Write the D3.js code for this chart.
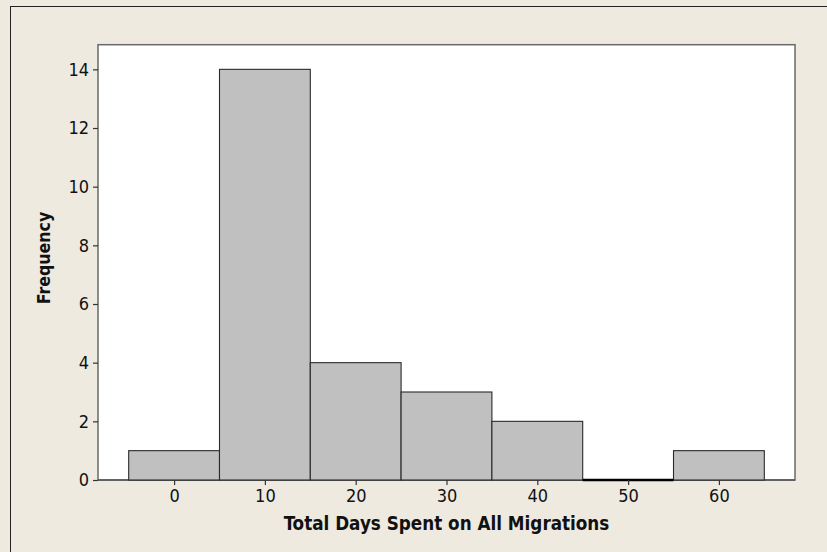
<!DOCTYPE html>
<html>
<head>
<meta charset="utf-8">
<script src="https://cdn.jsdelivr.net/npm/d3@7"></script>
<style>
  html, body { margin: 0; padding: 0; background: #EEEAE0; }
  svg { display: block; }
  text { font-family: "DejaVu Sans Condensed", "DejaVu Sans", sans-serif; fill: #111; }
</style>
</head>
<body>
<svg id="chart" width="827" height="552"></svg>
<script>
// Histogram of total days spent on all migrations (bin width 10)
const binCenters = [0, 10, 20, 30, 40, 50, 60];
const counts = [1, 14, 4, 3, 2, 0, 1];
const binWidth = 10;
const xTicks = [0, 10, 20, 30, 40, 50, 60];
const yTicks = [0, 2, 4, 6, 8, 10, 12, 14];
const xTitle = "Total Days Spent on All Migrations";
const yTitle = "Frequency";

const W = 827, H = 552;
const plot = { left: 98, top: 44.7, right: 795, bottom: 480 };

const svg = d3.select("#chart");

// outer panel
svg.append("rect")
  .attr("x", 10.5).attr("y", 6.5)
  .attr("width", W + 20).attr("height", H + 20)
  .attr("fill", "#EEEAE0")
  .attr("stroke", "#222").attr("stroke-width", 1);

const x = d3.scaleLinear().domain([-8.38, 68.38]).range([plot.left, plot.right]);
const y = d3.scaleLinear().domain([0, 14.84]).range([plot.bottom, plot.top]);

// data region and its frame
svg.append("rect")
  .attr("x", plot.left).attr("y", plot.top)
  .attr("width", plot.right - plot.left).attr("height", plot.bottom - plot.top)
  .attr("fill", "#fff")
  .attr("stroke", "#6a6a6a").attr("stroke-width", 1.5);

// baseline
svg.append("line")
  .attr("x1", plot.left).attr("x2", plot.right)
  .attr("y1", plot.bottom).attr("y2", plot.bottom)
  .attr("stroke", "#555").attr("stroke-width", 1.5);

const bins = binCenters.map((c, i) => ({ c, n: counts[i] }));

// bars with a count
svg.append("g").selectAll("rect")
  .data(bins.filter(d => d.n > 0))
  .join("rect")
  .attr("x", d => x(d.c - binWidth / 2))
  .attr("y", d => y(d.n))
  .attr("width", d => x(d.c + binWidth / 2) - x(d.c - binWidth / 2))
  .attr("height", d => y(0) - y(d.n))
  .attr("fill", "#C0C0C0")
  .attr("stroke", "#2a2a2a")
  .attr("stroke-width", 1.1);

// empty bins collapse to a heavy line on the baseline
svg.append("g").selectAll("line")
  .data(bins.filter(d => d.n === 0))
  .join("line")
  .attr("x1", d => x(d.c - binWidth / 2))
  .attr("x2", d => x(d.c + binWidth / 2))
  .attr("y1", d => y(d.n))
  .attr("y2", d => y(d.n))
  .attr("stroke", "#000")
  .attr("stroke-width", 2.4);

// axes
const xAxis = d3.axisBottom(x).tickValues(xTicks).tickSize(5).tickPadding(4).tickSizeOuter(0);
const yAxis = d3.axisLeft(y).tickValues(yTicks).tickSize(5).tickPadding(4).tickSizeOuter(0);

const gx = svg.append("g").attr("transform", `translate(0,${plot.bottom})`).call(xAxis);
const gy = svg.append("g").attr("transform", `translate(${plot.left},0)`).call(yAxis);

[gx, gy].forEach(g => {
  g.select(".domain").remove();
  g.selectAll(".tick line").attr("stroke", "#333").attr("stroke-width", 1.2);
  g.selectAll(".tick text")
    .attr("font-family", "DejaVu Sans Condensed, DejaVu Sans, sans-serif")
    .attr("font-size", 18).attr("fill", "#111");
});

// titles
svg.append("text")
  .attr("x", (plot.left + plot.right) / 2).attr("y", 530)
  .attr("text-anchor", "middle")
  .attr("font-size", 18.7).attr("font-weight", "bold")
  .text(xTitle);

svg.append("text")
  .attr("transform", `translate(50,258) rotate(-90)`)
  .attr("text-anchor", "middle")
  .attr("font-size", 17.6).attr("font-weight", "bold")
  .text(yTitle);
</script>
</body>
</html>
